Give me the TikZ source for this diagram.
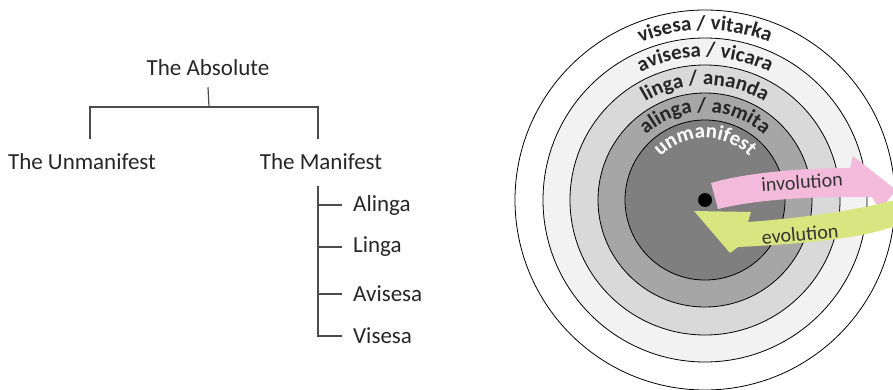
\documentclass[tikz,border=0pt]{standalone}
\usepackage{fontspec}
\setmainfont{Carlito}
\usetikzlibrary{decorations.text}

\definecolor{ringtwo}{HTML}{F2F2F2}
\definecolor{ringthree}{HTML}{D9D9D9}
\definecolor{ringfour}{HTML}{A6A6A6}
\definecolor{ringfive}{HTML}{7F7F7F}
\definecolor{invpink}{RGB}{243,186,219}
\definecolor{evogreen}{RGB}{215,230,128}

\begin{document}
\begin{tikzpicture}[x=1pt, y=1pt,
    treetext/.style={inner sep=0pt, text=black!85, font=\fontsize{23}{28}\selectfont},
    branch/.style={line width=1.2pt, draw=black!70},
    ring/.style={draw=black, line width=0.8pt},
    flowtext/.style={inner sep=0pt, text=black!80, font=\fontsize{20}{24}\selectfont},
    ringtext/.style 2 args={decorate, decoration={text along path, text align=center,
        text={|\color{#1}\bfseries\fontsize{21}{25}\selectfont|#2}}}]
\useasboundingbox (0,0) rectangle (893,389);

% tree
\node[treetext] (absolute) at (208,321) {The Absolute};
\node[treetext] (unmanifest) at (82,227) {The Unmanifest};
\node[treetext] (manifest) at (321,227) {The Manifest};
\node[treetext, anchor=west] (alinga) at (353,184) {Alinga};
\node[treetext, anchor=west] (linga) at (353,142) {Linga};
\node[treetext, anchor=west] (avisesa) at (353,95) {Avisesa};
\node[treetext, anchor=west] (visesa) at (353,53) {Visesa};

\coordinate (split) at (209,282);
\coordinate (stem) at (318,203);
\draw[branch] ([yshift=-11pt]absolute.south) -- (split);
\draw[branch] (split) -| ([xshift=8pt, yshift=15pt]unmanifest.north);
\draw[branch] (split) -| ([xshift=-3pt, yshift=15pt]manifest.north);
\foreach \n in {alinga, linga, avisesa, visesa}
    \draw[branch] (stem) |- ([xshift=-11pt]\n.west);

% rings
\coordinate (hub) at (705,189);
\foreach \r/\c in {190/white, 162/ringtwo, 135/ringthree, 107/ringfour, 80/ringfive}
    \draw[ring, fill=\c] (hub) circle[radius=\r pt];

\path[ringtext={black!85}{visesa / vitarka}] ([shift={(160:170pt)}]hub) arc[start angle=160, end angle=20, radius=170pt];
\path[ringtext={black!85}{avisesa / vicara}] ([shift={(160:143pt)}]hub) arc[start angle=160, end angle=20, radius=143pt];
\path[ringtext={black!85}{linga / ananda}] ([shift={(160:115pt)}]hub) arc[start angle=160, end angle=20, radius=115pt];
\path[ringtext={black!85}{alinga / asmita}] ([shift={(160:88pt)}]hub) arc[start angle=160, end angle=20, radius=88pt];
\path[ringtext={white}{unmanifest}] ([shift={(160:62pt)}]hub) arc[start angle=160, end angle=20, radius=62pt];

% arrows
\fill[invpink] (711,206) .. controls (745,216) and (800,221) .. (850,221)
    -- (853,233) -- (896,199) -- (880,179) -- (872,192)
    .. controls (800,193) and (750,188) .. (718,180) -- cycle;
\fill[evogreen] (895,189) .. controls (850,177) and (790,170) .. (748,167)
    -- (751,177) -- (694,178) -- (730,136) -- (738,142)
    .. controls (800,145) and (860,150) .. (895,163) -- cycle;
\node[flowtext, rotate=4] (involution) at (802,207) {involution};
\node[flowtext, rotate=5] (evolution) at (800,155) {evolution};

\fill (hub) circle[radius=7pt];
\end{tikzpicture}
\end{document}
